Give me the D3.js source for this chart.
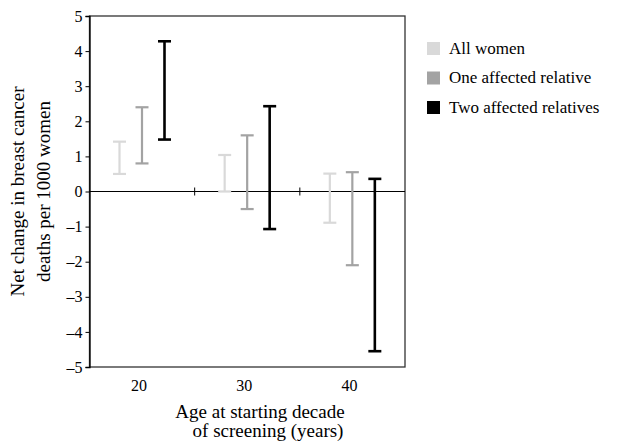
<!DOCTYPE html>
<html>
<head>
<meta charset="utf-8">
<script src="https://cdn.jsdelivr.net/npm/d3@7"></script>
</head>
<body style="margin:0;background:#fff">
<div id="chart"></div>
<script>
// age at starting decade of screening
const ages = ["20", "30", "40"];
const series = ["All women", "One affected relative", "Two affected relatives"];
const colors = ["#d9d9d9", "#a3a3a3", "#000000"];
// lower / upper ends of each interval, one row per series
const lows = [
  [0.5, 0.0, -0.89],
  [0.8, -0.5, -2.1],
  [1.48, -1.07, -4.55]
];
const highs = [
  [1.42, 1.04, 0.51],
  [2.4, 1.6, 0.55],
  [4.28, 2.43, 0.36]
];
const yTicks = [5, 4, 3, 2, 1, 0, -1, -2, -3, -4, -5];

const width = 635, height = 444;
const margin = { left: 89.5, top: 16, right: 230, bottom: 77 };
const fontName = "Liberation Serif";

const svg = d3.select("#chart").append("svg")
    .attr("width", width)
    .attr("height", height);

const x = d3.scaleBand()
    .domain(ages)
    .range([margin.left, width - margin.right]);

// position of each series inside its decade
const xs = d3.scalePoint()
    .domain(series)
    .range([30, 75]);

const y = d3.scaleLinear()
    .domain([-5, 5])
    .range([height - margin.bottom, margin.top]);

// frame
svg.append("rect")
    .attr("x", margin.left)
    .attr("y", margin.top)
    .attr("width", width - margin.right - margin.left)
    .attr("height", height - margin.bottom - margin.top)
    .attr("fill", "none")
    .attr("stroke", "#333")
    .attr("stroke-width", 1.3);

// left axis (en dash for negatives, as in the print)
const yAxis = svg.append("g")
    .attr("transform", "translate(" + margin.left + ",0)")
    .call(d3.axisLeft(y).tickValues(yTicks).tickSize(4).tickPadding(3)
        .tickFormat(d => d < 0 ? "\u2013" + Math.abs(d) : d));
yAxis.attr("font-family", fontName).attr("font-size", 16);
yAxis.select(".domain").attr("stroke", "#000").attr("stroke-width", 1.3);
yAxis.selectAll("line").attr("stroke", "#000");
yAxis.selectAll("text").attr("fill", "#000");

// zero line with ticks between decades
svg.append("line")
    .attr("x1", margin.left)
    .attr("x2", width - margin.right)
    .attr("y1", y(0))
    .attr("y2", y(0))
    .attr("stroke", "#000")
    .attr("stroke-width", 1);

svg.selectAll(".sep")
    .data(ages.slice(1))
    .enter().append("line")
    .attr("x1", d => x(d))
    .attr("x2", d => x(d))
    .attr("y1", y(0) - 4)
    .attr("y2", y(0) + 4)
    .attr("stroke", "#000");

// decade labels
svg.selectAll(".age")
    .data(ages)
    .enter().append("text")
    .attr("x", d => x(d) + x.bandwidth() / 2 - 3)
    .attr("y", height - margin.bottom + 24)
    .attr("text-anchor", "middle")
    .attr("font-family", fontName)
    .attr("font-size", 16)
    .text(d => d);

// error bars
const cap = 6.5;
series.forEach((s, i) => {
    const g = svg.append("g");
    const sw = i === 2 ? 2.6 : 2.2;
    ages.forEach((a, j) => {
        const cx = x(a) + xs(s);
        g.append("line")
            .attr("x1", cx).attr("x2", cx)
            .attr("y1", y(lows[i][j])).attr("y2", y(highs[i][j]))
            .attr("stroke", colors[i]).attr("stroke-width", sw);
        [lows[i][j], highs[i][j]].forEach(v => {
            g.append("line")
                .attr("x1", cx - cap).attr("x2", cx + cap)
                .attr("y1", y(v)).attr("y2", y(v))
                .attr("stroke", colors[i]).attr("stroke-width", sw);
        });
    });
});

// y axis title
const yTitle = svg.append("text")
    .attr("transform", "translate(24," + y(0) + ") rotate(-90)")
    .attr("text-anchor", "middle")
    .attr("font-family", fontName)
    .attr("font-size", 19);
yTitle.append("tspan").attr("x", 0).attr("dy", 0).text("Net change in breast cancer");
yTitle.append("tspan").attr("x", 0).attr("dy", 26).text("deaths per 1000 women");

// x axis title
svg.append("text")
    .attr("x", 260)
    .attr("y", 418)
    .attr("text-anchor", "middle")
    .attr("font-family", fontName)
    .attr("font-size", 19)
    .text("Age at starting decade");
svg.append("text")
    .attr("x", 268)
    .attr("y", 437)
    .attr("text-anchor", "middle")
    .attr("font-family", fontName)
    .attr("font-size", 19)
    .text("of screening (years)");

// legend
const legend = svg.selectAll(".legend")
    .data(series)
    .enter().append("g")
    .attr("transform", (d, i) => "translate(427," + (42 + i * 29.5) + ")");
legend.append("rect")
    .attr("width", 13)
    .attr("height", 13)
    .attr("fill", (d, i) => colors[i]);
legend.append("text")
    .attr("x", 22)
    .attr("y", 11.5)
    .attr("font-family", fontName)
    .attr("font-size", 17)
    .text(d => d);
</script>
</body>
</html>
